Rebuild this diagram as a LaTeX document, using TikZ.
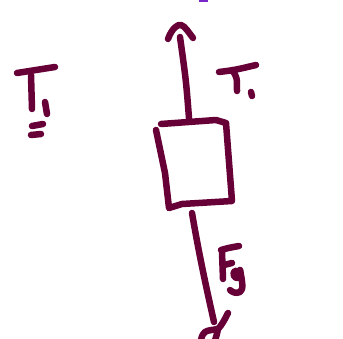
\documentclass[tikz,border=0pt]{standalone}
\definecolor{ink}{RGB}{104,0,56}
\definecolor{pur}{RGB}{120,40,200}
\tikzset{pen/.style={draw=ink,line width=6.5pt,line cap=round,line join=round}}
\begin{document}
\begin{tikzpicture}[x=1pt,y=-1pt]
\useasboundingbox (0,0) rectangle (343,339);
\clip (0,0) rectangle (343,339);
% up arrow (T1)
\coordinate (ubase) at (189,118);
\coordinate (utip) at (180,37);
\draw[pen] (ubase) .. controls (186,80) .. (utip);
\draw[pen] (168,39) .. controls (172,28) and (178,24) .. (181,25) .. controls (185,26) and (189,33) .. (193,38);
% box
\draw[pen] (161,124) -- (216,120) -- (226,123) -- (232,201) -- (182,204) -- (169,208) -- (165,173) -- (156,130);
% down arrow (Fg)
\coordinate (dbase) at (192,213);
\coordinate (dtip) at (214,322);
\draw[pen] (dbase) .. controls (200,260) and (208,295) .. (dtip);
\draw[pen] (228,313) .. controls (224,321) and (221,326) .. (218,329) .. controls (213,330) and (208,330) .. (205,332) .. controls (202,335) and (201,338) .. (201,342);
\draw[pen] (218,329) .. controls (217,334) and (216,338) .. (214,343);
% T1 label left
\draw[pen] (17,73) -- (55,67);
\draw[pen] (31,75) -- (32,109);
\draw[pen] (45,102) -- (47,114);
\draw[pen] (32,126) -- (43,124);
\draw[pen] (31,135) -- (41,134);
% T. label
\draw[pen] (219,72) .. controls (235,70) .. (256,65);
\draw[pen] (232,70) .. controls (237,77) .. (237,91);
\draw[pen] (251,92) -- (252,96);
% Fg label
\draw[pen] (222,252) -- (223,279);
\draw[pen] (221,250) .. controls (228,248) .. (239,246);
\draw[pen] (224,265) -- (232,263);
\draw[pen] (238,272) .. controls (233,268) and (232,276) .. (236,278) .. controls (239,279) and (241,274) .. (240,270);
\draw[pen] (240,270) .. controls (242,280) and (244,290) .. (240,292) .. controls (236,294) and (232,292) .. (230,290);
% small purple mark at top
\fill[pur] (199,0) rectangle (208,2);
\end{tikzpicture}
\end{document}
